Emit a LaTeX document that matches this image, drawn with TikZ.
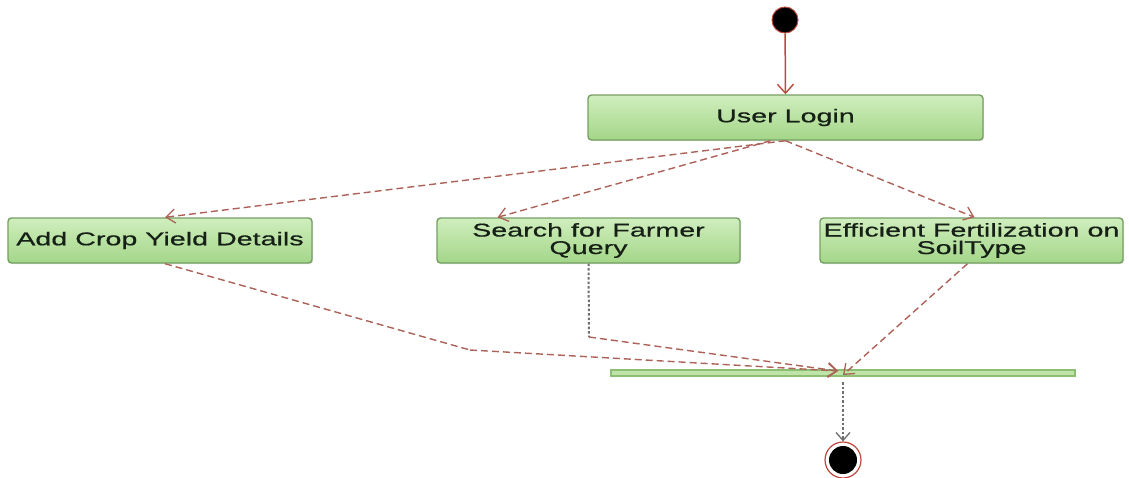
\documentclass[tikz,border=0pt]{standalone}
\usepackage{fontspec}
\newfontfamily\lblfont{Liberation Sans}[FakeStretch=1.55,FakeBold=0.6]
\usetikzlibrary{arrows.meta,calc,shadows}
\definecolor{boxtop}{RGB}{208,238,190}
\definecolor{boxbot}{RGB}{163,214,136}
\definecolor{boxline}{RGB}{118,160,98}
\definecolor{barline}{RGB}{140,190,115}
\definecolor{txt}{RGB}{22,32,22}
\definecolor{flowred}{RGB}{172,98,88}
\definecolor{startred}{RGB}{190,72,62}
\definecolor{dotgray}{RGB}{110,110,110}
\tikzset{
  actbox/.style={draw=boxline, line width=1.4pt, rounded corners=3.5pt,
    top color=boxtop, bottom color=boxbot, text=txt,
    drop shadow={shadow xshift=1.2pt, shadow yshift=-1.2pt, opacity=0.25},
    font=\lblfont\fontsize{18.5}{17.5}\selectfont, align=center, inner sep=0pt},
  flow/.style={draw=flowred, dash pattern=on 7pt off 4pt, line width=1.4pt,
    -{Straight Barb[length=9pt,width=14pt,line width=1.3pt]}},
  flowplain/.style={draw=flowred, dash pattern=on 7pt off 4pt, line width=1.4pt},
  dotflow/.style={draw=dotgray, dash pattern=on 2.5pt off 2pt, line width=2pt},
}
\begin{document}
\begin{tikzpicture}[x=1pt,y=-1pt]
\useasboundingbox (0,0) rectangle (1129,477);

% initial state
\node (start) [circle, fill=black, draw=startred, line width=1pt,
  minimum size=26pt, inner sep=0pt] at (785,20) {};

% activities
\node (login) [actbox, minimum width=395pt, minimum height=45pt] at (785.5,117.5) {User Login};
\node (crop) [actbox, minimum width=304pt, minimum height=45pt] at (160,240.5) {Add Crop Yield Details};
\node (search) [actbox, minimum width=303pt, minimum height=45pt] at (588.5,240.5)
  {Search for Farmer\\Query};
\node (fert) [actbox, minimum width=303pt, minimum height=45pt] at (971.5,240.5)
  {Efficient Fertilization on\\SoilType};

% join bar
\node (bar) [draw=barline, line width=1.1pt, fill=boxtop!60!boxbot,
  minimum width=464pt, minimum height=6pt, inner sep=0pt] at (843,373) {};

% final state
\node (final) [circle, draw=startred, line width=1.2pt, fill=white,
  minimum size=36pt, inner sep=0pt] at (843,460) {};
\node (finalcore) [circle, fill=black, minimum size=28pt, inner sep=0pt] at (final) {};

% join targets on the bar
\coordinate (jointip) at ([xshift=-5pt,yshift=2pt]bar.center);
\coordinate (cropbend) at (470,350);
\coordinate (searchbend) at (589,337);

% transitions
\draw[startred, line width=1.5pt, -{Straight Barb[length=9pt,width=16pt,line width=1.4pt]}]
  (start) -- (login.north);
\draw[flow] (login.south) -- ([xshift=5pt]crop.north);
\draw[flow] ([xshift=-15pt]login.south) -- ([xshift=-91pt]search.north);
\draw[flow] (login.south) -- ([xshift=3pt]fert.north);

\draw[flowplain] ([xshift=5pt]crop.south) -- (cropbend);
\draw[flow] (cropbend) -- (jointip);
\draw[dotflow] (search.south) -- (searchbend);
\draw[flow] (searchbend) -- (jointip);
\draw[flow] ([xshift=-4pt]fert.south) -- ([yshift=-2pt]bar.center);

\draw[dotflow, -{Straight Barb[length=8pt,width=14pt,line width=1.3pt]}]
  ([yshift=-9pt]bar.center) -- (final.north);
\end{tikzpicture}
\end{document}
